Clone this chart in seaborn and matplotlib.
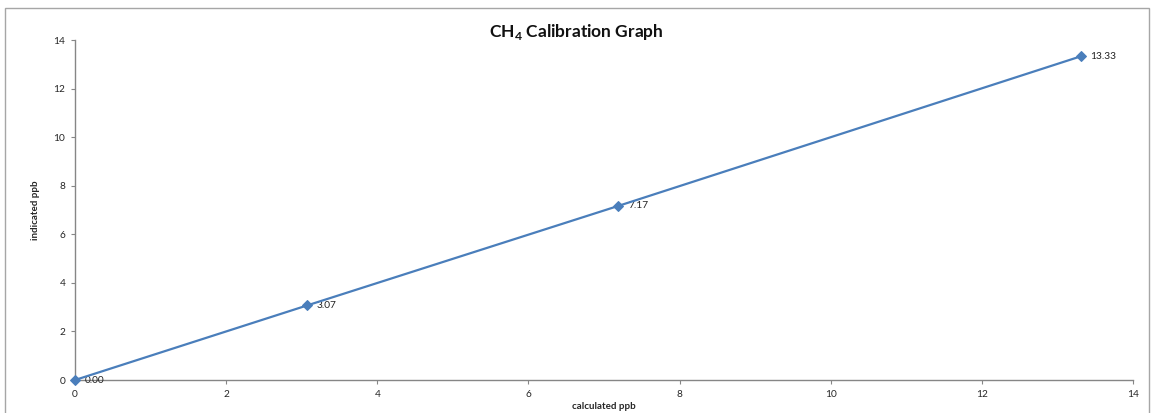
import matplotlib
matplotlib.use("Agg")
import matplotlib.pyplot as plt
import seaborn as sns
import pandas as pd
from matplotlib.patches import Rectangle

calculated_ppb = [0.0, 3.07, 7.19, 13.31]
indicated_ppb = [0.0, 3.07, 7.17, 13.33]
point_labels = ["0.00", "3.07", "7.17", "13.33"]
x_ticks = [0, 2, 4, 6, 8, 10, 12, 14]
y_ticks = [0, 2, 4, 6, 8, 10, 12, 14]

sns.set_style("white")
plt.rcParams['font.family'] = ['Lato', 'DejaVu Sans']
plt.rcParams['mathtext.fontset'] = 'custom'
plt.rcParams['mathtext.rm'] = 'Lato'
plt.rcParams['mathtext.bf'] = 'Lato:bold'

df = pd.DataFrame({"calculated ppb": calculated_ppb, "indicated ppb": indicated_ppb})

fig = plt.figure(figsize=(11.51, 4.13), dpi=100)
ax = fig.add_axes([0.0652, 0.0799, 0.9192, 0.8232])

line_color = "#4A7EBB"
sns.lineplot(data=df, x="calculated ppb", y="indicated ppb", ax=ax, color=line_color,
             linewidth=1.6, marker="D", markersize=5.5, markeredgecolor=line_color,
             markerfacecolor=line_color, sort=False)
for ln in ax.lines:
    ln.set_clip_on(False)
    ln.set_zorder(5)

for x, y, lab in zip(calculated_ppb, indicated_ppb, point_labels):
    ax.annotate(lab, (x, y), xytext=(7, 0), textcoords="offset points",
                ha="left", va="center", fontsize=7.3, color="#222222")

ax.set_xlim(0, 14)
ax.set_ylim(0, 14)
ax.set_xticks(x_ticks)
ax.set_yticks(y_ticks)
ax.tick_params(axis="both", which="both", direction="out", length=3, width=0.8,
               color="#868686", labelsize=7.3, pad=4, bottom=True, left=True)
for side in ["top", "right"]:
    ax.spines[side].set_visible(False)
for side in ["left", "bottom"]:
    ax.spines[side].set_color("#868686")
    ax.spines[side].set_linewidth(1.0)

ax.set_xlabel("calculated ppb", fontsize=7, fontweight="bold", labelpad=2)
ax.set_ylabel("indicated ppb", fontsize=7, fontweight="bold", labelpad=10)

fig.text(0.501, 0.922, r"CH$_\mathbf{4}$ Calibration Graph", ha="center", va="center",
         fontsize=12.5, fontweight="bold", color="#111111")

fig.patches.append(Rectangle((4.5 / 1151, -0.05), (1149 - 4.5) / 1151, 1 - 7.5 / 413 + 0.05,
                             transform=fig.transFigure, fill=False, edgecolor="#a6a6a6",
                             linewidth=1.0))

fig.savefig("out.png", dpi=100)
